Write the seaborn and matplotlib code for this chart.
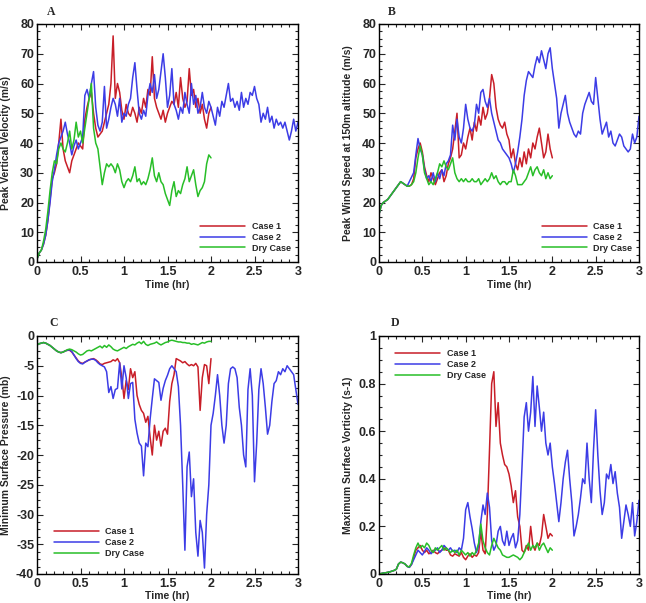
import numpy as np
import pandas as pd
import seaborn as sns
import matplotlib
matplotlib.use('Agg')
import matplotlib.pyplot as plt
from matplotlib.ticker import MultipleLocator, AutoMinorLocator, FuncFormatter

dt = 0.025  # hr between samples

# ---- A: peak vertical velocity (m/s)
a_case1 = [1, 3, 4, 6, 9, 14, 21, 28, 30, 33,
           40, 48, 38, 34, 32, 30, 34, 36, 38, 40,
           39, 38, 48, 52, 55, 57, 50, 45, 42, 43,
           44, 47, 50, 53, 60, 76, 55, 60, 57, 51,
           48, 53, 50, 49, 52, 50, 47, 52, 50, 55,
           52, 58, 56, 69, 55, 52, 50, 48, 51, 47,
           50, 52, 54, 53, 57, 52, 62, 55, 52, 54,
           65, 56, 58, 52, 55, 50, 53, 48, 45, 50,
           52]
a_case2 = [1, 3, 4, 6, 9, 14, 20, 27, 31, 36,
           40, 42, 44, 47, 43, 40, 36, 39, 41, 38,
           40, 42, 56, 58, 55, 60, 64, 52, 46, 44,
           47, 59, 45, 48, 52, 55, 53, 49, 55, 47,
           50, 49, 53, 55, 62, 67, 58, 50, 48, 51,
           49, 56, 60, 57, 63, 55, 58, 64, 70, 62,
           52, 56, 65, 53, 51, 48, 52, 50, 57, 53,
           50, 60, 53, 56, 50, 52, 57, 52, 50, 54,
           52, 49, 46, 52, 49, 54, 52, 56, 60, 54,
           55, 52, 54, 51, 57, 52, 55, 53, 57, 56,
           59, 55, 53, 47, 50, 48, 52, 47, 49, 45,
           48, 46, 47, 45, 47, 44, 41, 44, 48, 44,
           47]
a_dry = [1, 3, 4, 7, 11, 17, 24, 30, 34, 33,
         38, 40, 38, 37, 40, 44, 38, 41, 47, 42,
         44, 40, 45, 50, 55, 60, 45, 40, 38, 32,
         26, 30, 33, 32, 33, 32, 30, 33, 31, 27,
         25, 27, 28, 27, 29, 32, 27, 28, 26, 27,
         26, 28, 31, 35, 29, 27, 30, 27, 26, 23,
         21, 19, 24, 27, 22, 24, 23, 26, 28, 32,
         27, 29, 31, 26, 22, 24, 25, 27, 33, 36,
         35]

# ---- B: peak wind speed at 150 m (m/s)
b_case1 = [16, 19, 20, 20.5, 21, 22, 23, 24, 25, 26,
           27, 26.5, 26, 25.5, 25.5, 26, 28, 35, 38, 40,
           37, 32, 29, 27, 30, 28, 26, 28, 30, 31,
           27, 29, 33, 35, 38, 44, 50, 35, 36, 40,
           38, 42, 45, 41, 47, 44, 49, 46, 52, 48,
           50, 55, 63, 60, 52, 48, 46, 45, 47, 43,
           41, 35, 38, 33, 31, 35, 32, 37, 33, 38,
           35, 40, 38, 42, 45, 40, 35, 37, 43, 38,
           35]
b_case2 = [16, 19, 20, 20.5, 21, 22, 23, 24, 25, 26,
           27, 26.5, 26, 25.5, 27, 28.5, 30, 36, 41.5, 38,
           36, 31, 28, 29, 27, 30, 27, 30, 28, 31,
           29, 33, 34, 36, 46, 41, 48, 42, 40, 45,
           53, 48, 45, 44, 46, 53, 50, 57, 58, 54,
           52, 55, 50, 47, 44, 41, 40, 38, 37, 36,
           35, 33, 30, 33, 37, 42, 48, 56, 61, 64,
           63, 62, 66, 69, 67, 71, 68, 65, 70, 72,
           65, 60, 55, 45, 50, 53, 56, 50, 47, 45,
           43, 42, 44, 43, 50, 53, 55, 57, 54, 53,
           62, 55, 48, 43, 45, 47, 42, 44, 40, 39,
           41, 43, 42, 39, 38, 37, 38, 43, 40, 42,
           49]
b_dry = [16, 19, 20, 20.5, 21, 22, 23, 24, 25, 26,
         27, 26.5, 26, 25.5, 25.5, 26, 27, 30, 35, 39,
         36, 30, 28, 26, 27, 26, 28, 30, 33, 32,
         34, 32, 31, 33, 35, 30, 28, 27, 28, 27,
         28, 27, 27, 28, 27, 27, 28, 26, 27, 28,
         27, 28, 30, 28, 29, 27, 26, 27, 27, 26,
         27, 27, 31, 29, 26, 26, 26, 27, 28, 30,
         32, 29, 31, 32, 30, 29, 31, 28, 30, 28,
         29]

# ---- C: minimum surface pressure (mb)
c_case1 = [-1.5, -1.3, -1.2, -1.1, -1.2, -1.4, -1.6, -1.9, -2.2, -2.5,
           -2.7, -2.8, -2.7, -2.5, -2.4, -2.4, -2.7, -3.2, -3.7, -4.2,
           -4.5, -4.6, -4.4, -4.2, -4.0, -3.9, -3.8, -4.0, -4.3, -4.7,
           -4.8, -4.6, -4.5, -4.4, -4.3, -4.0, -4.2, -3.8, -4.5, -7.0,
           -10.5, -7.5, -9.0, -5.5, -7.0, -6.0, -10.0, -11.5, -12.5, -13.0,
           -14.5, -13.5, -17.0, -20.0, -15.0, -17.5, -16.0, -18.5, -16.0, -15.5,
           -16.5, -11.0, -8.0, -6.5, -3.8, -4.0, -4.2, -4.5, -4.3, -4.7,
           -5.0, -4.8, -5.0, -4.6, -5.2, -12.5, -7.0, -4.8, -5.0, -8.0,
           -3.8]
c_case2 = [-1.5, -1.3, -1.2, -1.1, -1.2, -1.4, -1.6, -1.9, -2.2, -2.5,
           -2.7, -2.8, -2.7, -2.5, -2.4, -2.3, -2.6, -3.2, -3.8, -4.3,
           -4.6, -4.7, -4.4, -4.2, -4.0, -3.9, -3.9, -4.1, -4.5, -4.8,
           -5.0, -5.2, -6.0, -9.5, -8.5, -10.5, -9.0, -8.8, -4.5, -8.9,
           -5.0, -7.0, -10.5, -8.0, -7.8, -14.0, -16.3, -18.0, -18.5, -23.5,
           -18.0, -18.6, -14.0, -10.5, -7.2, -7.5, -7.8, -10.8, -8.8, -7.5,
           -6.6, -5.5, -5.0, -5.5, -6.0, -8.5, -15.0, -25.0, -36.0, -22.0,
           -19.5, -27.0, -24.0, -33.0, -37.0, -31.0, -33.0, -39.0, -30.0, -25.0,
           -15.0, -13.0, -10.0, -6.5, -10.0, -15.0, -18.0, -15.0, -8.0, -5.5,
           -5.2, -5.5, -7.0, -12.0, -15.0, -20.0, -22.0, -9.0, -5.5, -10.0,
           -24.5, -18.0, -9.0, -5.5, -8.0, -12.0, -16.5, -15.0, -11.0, -8.0,
           -7.5, -6.0, -6.5, -5.5, -6.0, -5.0, -5.5, -6.0, -6.5, -9.0,
           -11.5]
c_dry = [-1.5, -1.3, -1.2, -1.1, -1.2, -1.4, -1.6, -1.9, -2.2, -2.5,
         -2.7, -2.8, -2.7, -2.5, -2.3, -2.2, -2.3, -2.5, -2.7, -3.0,
         -3.2, -3.1, -2.8, -2.5, -2.4, -2.5, -2.3, -2.1, -1.9, -1.7,
         -2.0, -1.6, -1.9, -1.5, -1.8, -2.2, -2.4, -2.5, -2.3, -2.1,
         -1.9, -2.1, -1.8, -1.6, -1.4, -1.5, -1.2, -1.0, -1.3, -0.9,
         -1.4, -1.6, -1.4, -1.3, -1.2, -1.0, -1.3, -1.5, -1.3, -1.1,
         -1.0, -0.8, -0.7, -0.8, -0.9, -1.0, -1.0, -1.1, -1.1, -1.2,
         -1.2, -1.4, -1.3, -1.4, -1.5, -1.3, -1.1, -1.2, -1.0, -0.9,
         -0.9]

# ---- D: maximum surface vorticity (s-1)
d_case1 = [0, 0.002, 0.004, 0.005, 0.007, 0.009, 0.012, 0.015, 0.02, 0.042,
           0.05, 0.047, 0.042, 0.032, 0.028, 0.04, 0.07, 0.1, 0.11, 0.12,
           0.1, 0.09, 0.1, 0.085, 0.09, 0.1, 0.09, 0.085, 0.095, 0.1,
           0.11, 0.1, 0.1, 0.08, 0.075, 0.085, 0.08, 0.075, 0.09, 0.07,
           0.06, 0.075, 0.085, 0.07, 0.08, 0.075, 0.09, 0.18, 0.1, 0.085,
           0.25, 0.52, 0.8, 0.85, 0.62, 0.72, 0.55, 0.5, 0.46, 0.45,
           0.42, 0.37, 0.3, 0.35, 0.24, 0.2, 0.1, 0.09, 0.12, 0.1,
           0.2, 0.12, 0.1, 0.13, 0.12, 0.16, 0.25, 0.2, 0.15, 0.17,
           0.16]
d_case2 = [0, 0.002, 0.004, 0.005, 0.007, 0.009, 0.012, 0.015, 0.02, 0.042,
           0.05, 0.047, 0.042, 0.032, 0.028, 0.04, 0.06, 0.08, 0.1, 0.09,
           0.08, 0.095, 0.11, 0.1, 0.085, 0.095, 0.1, 0.11, 0.09, 0.1,
           0.12, 0.11, 0.1, 0.11, 0.095, 0.1, 0.09, 0.11, 0.1, 0.15,
           0.27, 0.3, 0.24, 0.19, 0.13, 0.09, 0.12, 0.22, 0.29, 0.25,
           0.34, 0.28, 0.14, 0.1, 0.12, 0.18, 0.2, 0.14, 0.12, 0.18,
           0.12, 0.15, 0.17, 0.11, 0.14, 0.25, 0.45, 0.66, 0.72, 0.6,
           0.68, 0.83, 0.62, 0.79, 0.7, 0.6, 0.68, 0.55, 0.5, 0.55,
           0.45, 0.38, 0.3, 0.22, 0.3, 0.4, 0.47, 0.52, 0.4, 0.3,
           0.16, 0.2, 0.25, 0.32, 0.4, 0.38, 0.55, 0.4, 0.3, 0.52,
           0.69, 0.5, 0.35, 0.25, 0.3, 0.42, 0.4, 0.46, 0.38, 0.43,
           0.34, 0.28, 0.15, 0.22, 0.29, 0.25, 0.2, 0.3, 0.16, 0.22,
           0.31]
d_dry = [0, 0.002, 0.004, 0.005, 0.007, 0.009, 0.012, 0.015, 0.02, 0.042,
         0.05, 0.047, 0.042, 0.032, 0.03, 0.045, 0.08, 0.11, 0.13, 0.11,
         0.12, 0.11, 0.13, 0.12, 0.1, 0.09, 0.11, 0.1, 0.11, 0.12,
         0.1, 0.11, 0.1, 0.09, 0.1, 0.09, 0.1, 0.08, 0.1, 0.09,
         0.08, 0.09, 0.075, 0.09, 0.08, 0.1, 0.13, 0.21, 0.14, 0.11,
         0.09, 0.08, 0.12, 0.15, 0.13, 0.11, 0.1, 0.08, 0.075, 0.07,
         0.07, 0.075, 0.08, 0.075, 0.07, 0.06, 0.07, 0.09, 0.11, 0.13,
         0.1, 0.12, 0.11, 0.13, 0.1, 0.12, 0.13, 0.11, 0.09, 0.11,
         0.1]

case_names = ['Case 1', 'Case 2', 'Dry Case']
colors = {'Case 1': '#c81e28', 'Case 2': '#3c3ce6', 'Dry Case': '#28be28'}


def make_df(c1, c2, dry):
    parts = []
    for name, vals in zip(case_names, [c1, c2, dry]):
        parts.append(pd.DataFrame({'time': np.arange(len(vals)) * dt,
                                   'value': vals, 'case': name}))
    return pd.concat(parts, ignore_index=True)


sns.set_style('ticks')
plt.rcParams['font.family'] = ['Liberation Sans', 'DejaVu Sans']
plt.rcParams['font.weight'] = 'bold'
plt.rcParams['axes.labelweight'] = 'bold'

W, H = 646, 603
fig = plt.figure(figsize=(W / 100, H / 100), dpi=100)

# letter, axes box in px (left, top, right, bottom), data, ylabel, ylim, ystep, legend anchor, letter pos
panels = [
    ('A', (37, 24, 298, 262), make_df(a_case1, a_case2, a_dry),
     'Peak Vertical Velocity (m/s)', (0, 80), 10, (0.625, 0.168), (47, 12)),
    ('B', (379, 24, 639, 262), make_df(b_case1, b_case2, b_dry),
     'Peak Wind Speed at 150m altitude (m/s)', (0, 80), 10, (0.627, 0.168), (388, 12)),
    ('C', (37, 336, 298, 574), make_df(c_case1, c_case2, c_dry),
     'Minimum Surface Pressure (mb)', (-40, 0), 5, (0.065, 0.197), (49, 323)),
    ('D', (379, 336, 639, 574), make_df(d_case1, d_case2, d_dry),
     'Maximum Surface Vorticity (s-1)', (0, 1), 0.2, (0.062, 0.945), (391, 323)),
]

fmt = FuncFormatter(lambda v, p: '%g' % round(v, 3))

for letter, box, df, ylab, ylim, ystep, leg_xy, let_xy in panels:
    l, t, r, b = box
    ax = fig.add_axes([l / W, 1 - b / H, (r - l) / W, (b - t) / H])
    sns.lineplot(data=df, x='time', y='value', hue='case', hue_order=case_names,
                 palette=colors, linewidth=1.1, estimator=None, ax=ax)
    ax.set_xlim(0, 3)
    ax.set_ylim(*ylim)
    ax.xaxis.set_major_locator(MultipleLocator(0.5))
    ax.xaxis.set_minor_locator(AutoMinorLocator(5))
    ax.yaxis.set_major_locator(MultipleLocator(ystep))
    ax.yaxis.set_minor_locator(AutoMinorLocator(4))
    ax.xaxis.set_major_formatter(fmt)
    ax.yaxis.set_major_formatter(fmt)
    ax.tick_params(which='both', direction='in', top=True, right=True, width=0.8)
    ax.tick_params(which='major', length=4, labelsize=9)
    ax.tick_params(which='minor', length=2)
    ax.tick_params(axis='x', pad=3)
    ax.tick_params(axis='y', pad=2)
    for s in ax.spines.values():
        s.set_linewidth(1.0)
        s.set_color('black')
    ax.set_xlabel('Time (hr)', fontsize=7.5, fontweight='bold')
    ax.set_ylabel(ylab, fontsize=7.5, fontweight='bold')
    ax.xaxis.set_label_coords(0.5, -0.075 if letter in 'AB' else -0.071)
    ax.yaxis.set_label_coords(-0.10, 0.5)
    handles, labels = ax.get_legend_handles_labels()
    ax.legend(handles, labels, loc='upper left', bbox_to_anchor=leg_xy, frameon=False,
              borderpad=0, borderaxespad=0, handlelength=5.0, handletextpad=0.7,
              labelspacing=0.2, prop={'size': 6.5, 'weight': 'bold'})
    fig.text(let_xy[0] / W, 1 - let_xy[1] / H, letter, ha='left', va='center',
             family=['Liberation Serif', 'DejaVu Serif'], fontweight='bold', fontsize=8.5)

fig.savefig('out.png', dpi=100)
